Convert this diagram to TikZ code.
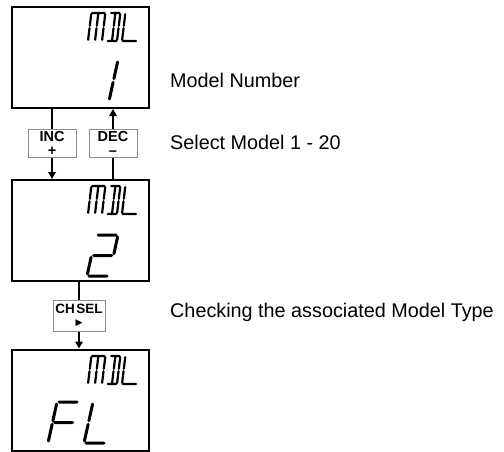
\documentclass[tikz,border=0pt]{standalone}
\usepackage{fontspec}
\setmainfont{Liberation Sans}
\newfontfamily\symfont{DejaVu Sans}
\usetikzlibrary{arrows.meta}
\definecolor{btngray}{HTML}{8C8C8C}
\tikzset{
  disp/.style={draw=black, line width=2pt, minimum width=137pt, minimum height=101pt, inner sep=0pt},
  btn/.style={draw=btngray, line width=1pt, fill=white, minimum width=48pt, minimum height=28pt,
    inner sep=0pt, align=center, font=\bfseries\fontsize{14.5}{14}\selectfont},
  conn/.style={line width=1.8pt},
  arr/.style={conn, -{Triangle[length=7pt,width=7.5pt]}},
  lbl/.style={inner sep=0pt, anchor=base west, font=\fontsize{19.8}{24}\selectfont},
  segs/.style={line width=3pt, line cap=round, xslant=0.22},
  msegs/.style={line width=2.2pt, line cap=round, xslant=0.12},
  mdl/.pic={
    \draw[msegs]
      (0.8,28)--(13.2,28)
      (0,26.8)--(0,15.2) (0,12.8)--(0,1.2)
      (7,26.8)--(7,15.2) (7,12.8)--(7,1.2)
      (14,26.8)--(14,15.2) (14,12.8)--(14,1.2)
      (19.8,28)--(28.2,28)
      (24,26.8)--(24,15.2) (24,12.8)--(24,1.2)
      (29,26.8)--(29,15.2) (29,12.8)--(29,1.2)
      (19.8,0)--(28.2,0)
      (34,26.8)--(34,15.2) (34,12.8)--(34,1.2)
      (34.8,0)--(48,0);
  },
  digone/.pic={
    \draw[segs] (22,39)--(22,22.3) (22,18.7)--(22,2);
  },
  digtwo/.pic={
    \draw[segs] (2,41)--(20,41) (22,39)--(22,22.3) (2,20.5)--(20,20.5)
      (0,18.7)--(0,2) (2,0)--(20,0);
  },
  digF/.pic={
    \draw[segs] (2,41)--(20,41) (0,39)--(0,22.3) (0,18.7)--(0,2) (2,20.5)--(20,20.5);
  },
  digL/.pic={
    \draw[segs] (0,39)--(0,22.3) (0,18.7)--(0,2) (2,0)--(20,0);
  },
}
\begin{document}
\begin{tikzpicture}[x=1pt,y=1pt]
\useasboundingbox (0,0) rectangle (504,-451);
% displays
\node[disp] (d1) at (80.5,-57.5) {};
\node[disp] (d2) at (80.5,-230.5) {};
\node[disp] (d3) at (80.5,-400) {};
% display contents
\pic at (88,-41) {mdl};
\pic at (87,-101) {digone};
\pic at (88,-214) {mdl};
\pic at (87,-276) {digtwo};
\pic at (88,-384) {mdl};
\pic at (48,-443) {digF};
\pic at (84,-443) {digL};
% buttons
\node[btn] (inc) at (52,-143) {INC\\+};
\node[btn] (dec) at (113,-143) {DEC\\–};
\node[btn, minimum width=52pt, minimum height=31pt, font=\bfseries\fontsize{13.5}{12.5}\selectfont]
  (chsel) at (79,-315.5) {CH\hspace{1.5pt}SEL\\{\symfont\fontsize{9}{9}\selectfont ▶}};
% connectors
\draw[conn] (d1.south -| inc.north) -- (inc.north);
\draw[arr] (inc.south) -- (inc.south |- d2.north);
\draw[conn] (d2.north -| dec.south) -- (dec.south);
\draw[arr] (dec.north) -- (dec.north |- d1.south);
\draw[conn] (d2.south -| chsel.north) -- (chsel.north);
\draw[arr] (chsel.south) -- (chsel.south |- d3.north);
% labels
\node[lbl] (t1) at (170,-87) {Model Number};
\node[lbl] (t2) at (170,-149) {Select Model 1 - 20};
\node[lbl] (t3) at (170,-317) {Checking the associated Model Type};
\end{tikzpicture}
\end{document}
